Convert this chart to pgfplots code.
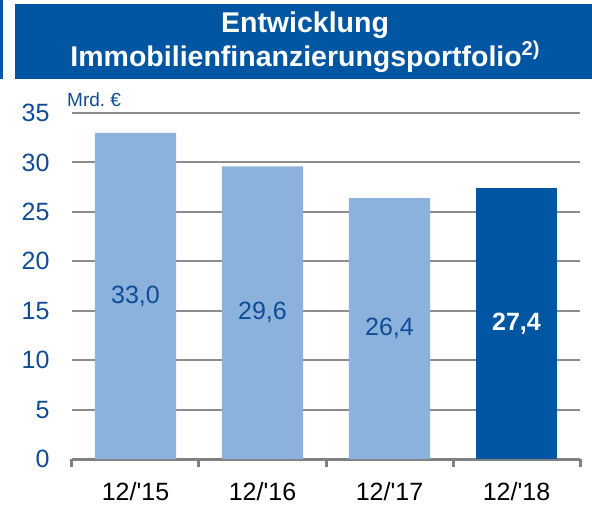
\documentclass[border=0pt]{standalone}
\usepackage{fontspec}
\setmainfont{Liberation Sans}[Ligatures=TeXOff]
\usepackage{pgfplots}
\usepackage{pgfplotstable}
\pgfplotsset{compat=1.18}

\definecolor{dbblue}{RGB}{0,86,163}
\definecolor{lightbar}{RGB}{138,178,220}
\definecolor{lblblue}{RGB}{16,76,150}
\definecolor{axgray}{RGB}{128,128,128}
\definecolor{grgray}{RGB}{140,140,140}

% values in Mrd. EUR
\pgfplotstableread{
x v lbl
0 33.0 33,0
1 29.6 29,6
2 26.4 26,4
}\lightbars
\pgfplotstableread{
x v lbl
3 27.4 27,4
}\darkbars

\begin{document}
\begin{tikzpicture}[x=1pt,y=1pt]
\path[use as bounding box] (0,0) rectangle (592,504);
% title box
\fill[dbblue] (15,425) rectangle (592,500);
\fill[dbblue] (0,425) rectangle (2.5,504);
\node[anchor=base, inner sep=0pt, text=white, font=\fontsize{28.5}{30}\selectfont\bfseries] at (305,471) {Entwicklung};
\node[anchor=base, inner sep=0pt, text=white, font=\fontsize{28.5}{30}\selectfont\bfseries] at (305,437)
  {Immobilienfinanzierungsportfolio\raisebox{11pt}{\fontsize{20}{20}\selectfont 2)}};
\node[anchor=base west, inner sep=0pt, text=lblblue, font=\fontsize{19}{19}\selectfont] at (67,397) {Mrd.\ €};

\begin{axis}[
  at={(72pt,45pt)}, anchor=south west,
  scale only axis, width=508pt, height=346pt,
  xmin=-0.5, xmax=3.5, ymin=0, ymax=35,
  xtick={0,1,2,3}, xticklabels={12/'15,12/'16,12/'17,12/'18},
  minor xtick={-0.5,0.5,1.5,2.5,3.5},
  ytick={0,5,...,35},
  axis x line*=bottom, axis y line*=left,
  x axis line style={-, draw=axgray, line width=3pt},
  y axis line style={draw=none},
  major x tick style={draw=none},
  minor x tick style={draw=axgray, line width=3pt},
  minor tick length=8pt, tick align=outside,
  ytick style={draw=none},
  ymajorgrids, major grid style={draw=grgray, line width=2pt},
  /pgf/number format/assume math mode=true,
  yticklabel style={font=\fontsize{25}{25}\selectfont, text=lblblue, anchor=east, inner sep=0pt, xshift=-18pt},
  xticklabel style={font=\fontsize{25}{25}\selectfont, text=black, anchor=base, inner sep=0pt, yshift=-37pt},
]
\addplot[ybar, bar width=0.64, bar shift=0pt, fill=lightbar, draw=none] table[x=x, y=v] {\lightbars};
\addplot[ybar, bar width=0.64, bar shift=0pt, fill=dbblue, draw=none] table[x=x, y=v] {\darkbars};
\addplot[draw=none, mark=none, nodes near coords, point meta=explicit symbolic,
  every node near coord/.append style={anchor=center, inner sep=0pt, text=lblblue, font=\fontsize{25}{25}\selectfont}]
  table[x=x, y expr=\thisrow{v}/2, meta=lbl] {\lightbars};
\addplot[draw=none, mark=none, nodes near coords, point meta=explicit symbolic,
  every node near coord/.append style={anchor=center, inner sep=0pt, text=white, font=\fontsize{25}{25}\selectfont\bfseries}]
  table[x=x, y expr=\thisrow{v}/2, meta=lbl] {\darkbars};
\end{axis}
\end{tikzpicture}
\end{document}
